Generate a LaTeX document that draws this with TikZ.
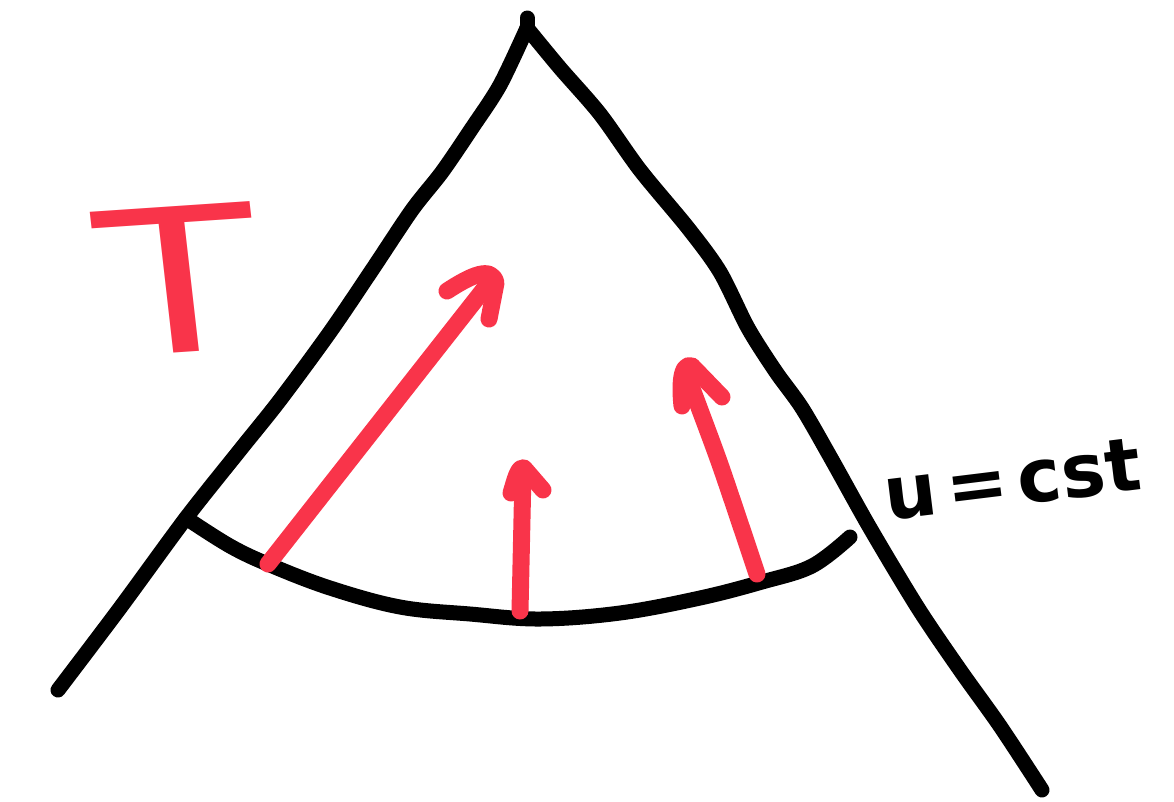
\documentclass[tikz,border=0pt]{standalone}
\usepackage{fontspec}
\setmainfont{DejaVu Sans}
\usetikzlibrary{calc}
\usetikzlibrary{positioning}
\definecolor{penRed}{HTML}{F9344A}
\definecolor{penBlack}{HTML}{000000}
\tikzset{
    marker/.style={line width=15pt, line cap=round, line join=round, color=penBlack},
    redmarker/.style={marker, line width=17pt, color=penRed},
}

\begin{document}
\begin{tikzpicture}[x=1pt, y=-1pt]
    \useasboundingbox (0,0) rectangle (1174,801);

    % named points of the sketch
    \coordinate (apex) at (527,28);
    \coordinate (leftFoot) at (58,690);
    \coordinate (rightFoot) at (1042,790);
    \coordinate (curveLeft) at (186,518);
    \coordinate (curveRight) at (850,537);

    % the wedge
    \draw [marker] plot [smooth, tension=0.5] coordinates {(leftFoot) (120,608) (curveLeft) (240,450) (280,400) (330,332) (372,270) (412,210) (442,172) (472,128) (500,85) (apex)};
    \draw [marker] (527,18) -- (apex);
    \draw [marker] plot [smooth, tension=0.5] coordinates {(apex) (560,68) (600,114) (640,170) (688,228) (720,272) (748,328) (776,372) (802,408) (832,460) (870,528) (918,608) (960,670) (1000,726) (rightFoot)};

    % the curve u = cst
    \draw [marker] plot [smooth, tension=0.6] coordinates {(curveLeft) (230,546) (270,565) (330,588) (400,607) (470,614) (540,619) (620,613) (700,598) (762,582) (812,566) (curveRight)};

    % arrows along the curve
    \coordinate (a1s) at (268,564);
    \coordinate (a1e) at (488,284);
    \coordinate (a2s) at (520,611);
    \coordinate (a2e) at (523,472);
    \coordinate (a3s) at (757,574);
    \coordinate (a3e) at (688,378);

    \draw [redmarker] (a1s) -- (a1e);
    \draw [redmarker] (447,291) .. controls (470,276) and (492,265) .. (496,283) -- (489,319);
    \draw [redmarker] (a2s) -- (a2e);
    \draw [redmarker] (511,493) .. controls (515,480) and (518,466) .. (524,468) -- (543,490);
    \draw [redmarker] plot [smooth] coordinates {(a3s) (722,470) (700,410) (a3e)};
    \draw [redmarker] (682,406) .. controls (680,388) and (680,362) .. (692,366) -- (722,397);

    % labels
    \node (tLabel) [text=penRed, font=\fontsize{200}{200}\selectfont, xscale=1.3, rotate=5, inner sep=0pt, anchor=center] at (178,280) {T};
    \node (uLabel) [text=penBlack, font=\bfseries\fontsize{74}{74}\selectfont, rotate=7, inner sep=0pt, anchor=center] at (1012,480) {u\hspace{10pt}=\hspace{10pt}cst};
\end{tikzpicture}
\end{document}
